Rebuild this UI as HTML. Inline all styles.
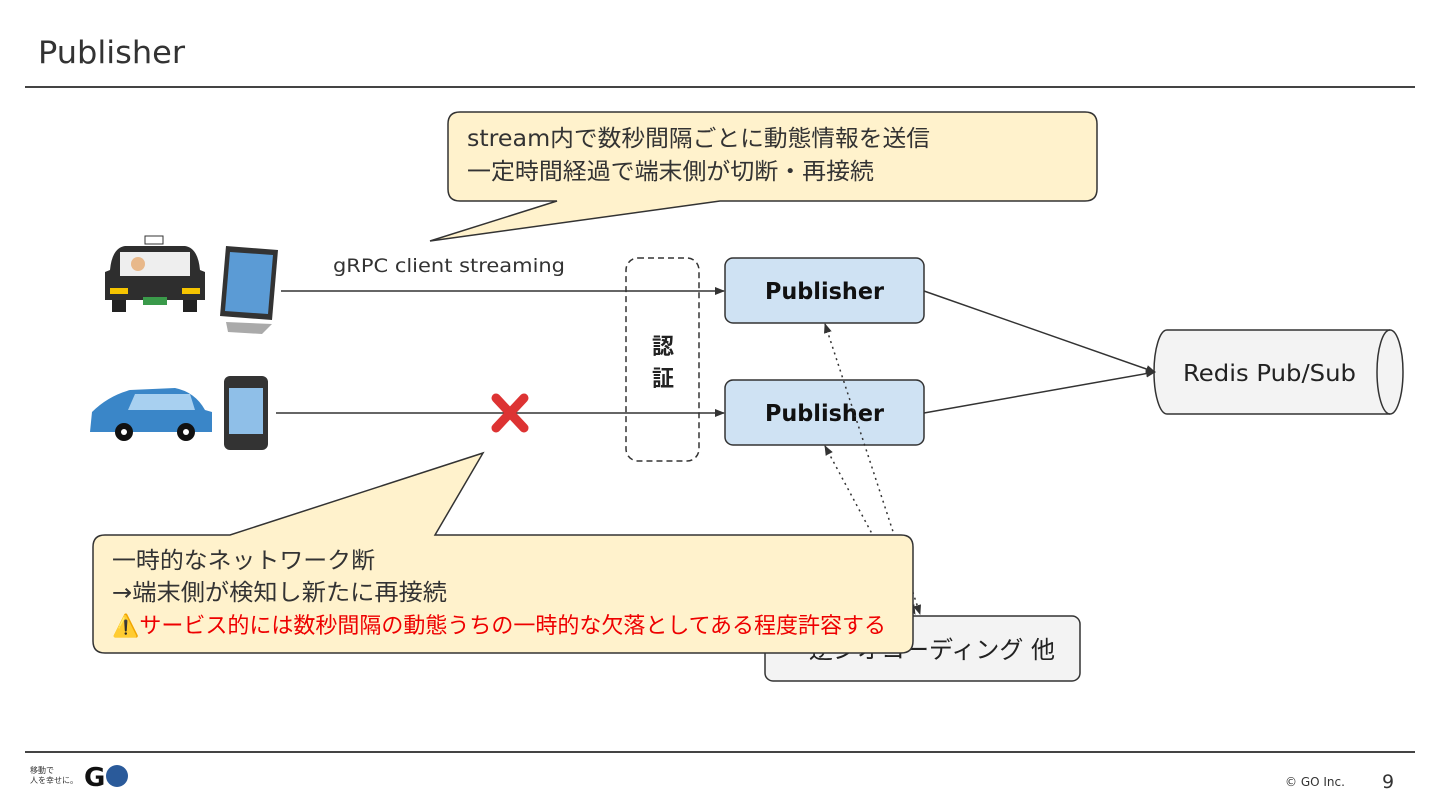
<!DOCTYPE html>
<html><head><meta charset="utf-8"><style>
body{margin:0;background:#fff}
svg{display:block;font-family:"DejaVu Sans","Noto Sans CJK JP",sans-serif}
</style></head><body>
<svg width="1440" height="810" viewBox="0 0 1440 810" xmlns="http://www.w3.org/2000/svg">
<defs>
<marker id="a" markerWidth="10" markerHeight="8" refX="9" refY="4" orient="auto-start-reverse" markerUnits="userSpaceOnUse"><path d="M0,0 L10,4 L0,8 z" fill="#333"/></marker>
</defs>
<text x="38" y="63" font-size="31" fill="#333" textLength="147" lengthAdjust="spacingAndGlyphs">Publisher</text>
<line x1="25" y1="87" x2="1415" y2="87" stroke="#444" stroke-width="2"/>

<!-- devices -->
<g>
<rect x="145" y="236" width="18" height="8" fill="#fff" stroke="#333"/>
<path d="M110,270 Q112,248 125,246 L185,246 Q198,248 200,270 L205,272 L205,300 L105,300 L105,272z" fill="#2e2e2e"/>
<rect x="120" y="252" width="70" height="24" fill="#eee"/>
<circle cx="138" cy="264" r="7" fill="#e8b88a"/>
<rect x="110" y="288" width="18" height="6" fill="#f5c400"/><rect x="182" y="288" width="18" height="6" fill="#f5c400"/>
<rect x="143" y="297" width="24" height="8" fill="#3a9a4a"/>
<rect x="112" y="300" width="14" height="12" fill="#222"/><rect x="183" y="300" width="14" height="12" fill="#222"/>
<path d="M226,246 L278,250 L272,320 L220,316z" fill="#333"/>
<path d="M230,252 L273,255 L268,314 L225,311z" fill="#5b9bd5"/>
<path d="M226,322 L272,324 L262,334 L228,332z" fill="#aaa"/>
<path d="M92,412 Q108,396 130,390 L175,388 Q195,392 205,410 L212,412 L212,432 L90,432z" fill="#3a86c8"/>
<path d="M135,394 L190,394 L195,410 L128,410z" fill="#a8d0f0"/>
<circle cx="124" cy="432" r="9" fill="#111"/><circle cx="124" cy="432" r="3" fill="#fff"/>
<circle cx="186" cy="432" r="9" fill="#111"/><circle cx="186" cy="432" r="3" fill="#fff"/>
<rect x="224" y="376" width="44" height="74" rx="6" fill="#333"/>
<rect x="229" y="388" width="34" height="46" fill="#8fbfe8"/>
</g>

<!-- callout 1 -->
<path d="M460,112 H1085 Q1097,112 1097,124 V189 Q1097,201 1085,201 H720 L430,241 L557,201 H460 Q448,201 448,189 V124 Q448,112 460,112z" fill="#fff2cc" stroke="#333" stroke-width="1.5"/>
<text x="467" y="146" font-size="23" fill="#333" textLength="463" lengthAdjust="spacingAndGlyphs">stream内で数秒間隔ごとに動態情報を送信</text>
<text x="467" y="179" font-size="23" fill="#333" textLength="407" lengthAdjust="spacingAndGlyphs">一定時間経過で端末側が切断・再接続</text>

<text x="333" y="272" font-size="19" fill="#333" textLength="232" lengthAdjust="spacingAndGlyphs">gRPC client streaming</text>
<line x1="281" y1="291" x2="724" y2="291" stroke="#333" stroke-width="1.5" marker-end="url(#a)"/>
<line x1="276" y1="413" x2="724" y2="413" stroke="#333" stroke-width="1.5" marker-end="url(#a)"/>
<g stroke="#d33" stroke-width="9" stroke-linecap="round"><line x1="496" y1="398" x2="524" y2="428"/><line x1="524" y1="398" x2="496" y2="428"/></g>

<rect x="626" y="258" width="73" height="203" rx="12" fill="none" stroke="#333" stroke-width="1.5" stroke-dasharray="6,4"/>
<text x="663" y="354" font-size="22" font-weight="bold" fill="#222" text-anchor="middle">認</text>
<text x="663" y="386" font-size="22" font-weight="bold" fill="#222" text-anchor="middle">証</text>

<rect x="725" y="258" width="199" height="65" rx="8" fill="#cfe2f3" stroke="#333" stroke-width="1.5"/>
<text x="765" y="299" font-size="23" font-weight="bold" fill="#111" textLength="119" lengthAdjust="spacingAndGlyphs">Publisher</text>
<rect x="725" y="380" width="199" height="65" rx="8" fill="#cfe2f3" stroke="#333" stroke-width="1.5"/>
<text x="765" y="421" font-size="23" font-weight="bold" fill="#111" textLength="119" lengthAdjust="spacingAndGlyphs">Publisher</text>

<path d="M1167,330 H1390 A13,42 0 0 1 1390,414 H1167 A13,42 0 0 1 1167,330z" fill="#f3f3f3" stroke="#333" stroke-width="1.5"/>
<path d="M1390,330 A13,42 0 0 0 1390,414" fill="none" stroke="#333" stroke-width="1.5"/>
<text x="1183" y="381" font-size="23" fill="#222" textLength="173" lengthAdjust="spacingAndGlyphs">Redis Pub/Sub</text>
<line x1="924" y1="291" x2="1155" y2="372" stroke="#333" stroke-width="1.5" marker-end="url(#a)"/>
<line x1="924" y1="413" x2="1155" y2="372" stroke="#333" stroke-width="1.5" marker-end="url(#a)"/>

<line x1="825" y1="324" x2="920" y2="614" stroke="#333" stroke-width="1.5" stroke-dasharray="2,4" marker-start="url(#a)" marker-end="url(#a)"/>
<line x1="825" y1="446" x2="915" y2="614" stroke="#333" stroke-width="1.5" stroke-dasharray="2,4" marker-start="url(#a)" marker-end="url(#a)"/>

<rect x="765" y="616" width="315" height="65" rx="8" fill="#f3f3f3" stroke="#333" stroke-width="1.5"/>
<text x="1055" y="658" font-size="24" fill="#222" text-anchor="end">逆ジオコーディング 他</text>

<!-- callout 2 -->
<path d="M105,535 H230 L483,453 L435,535 H901 Q913,535 913,547 V641 Q913,653 901,653 H105 Q93,653 93,641 V547 Q93,535 105,535z" fill="#fff2cc" stroke="#333" stroke-width="1.5"/>
<text x="112" y="568" font-size="23" fill="#333" textLength="263" lengthAdjust="spacingAndGlyphs">一時的なネットワーク断</text>
<text x="112" y="600" font-size="23" fill="#333" textLength="335" lengthAdjust="spacingAndGlyphs">→端末側が検知し新たに再接続</text>
<text x="112" y="633" font-size="22" fill="#e00" textLength="774" lengthAdjust="spacingAndGlyphs">⚠️サービス的には数秒間隔の動態うちの一時的な欠落としてある程度許容する</text>

<line x1="25" y1="752" x2="1415" y2="752" stroke="#444" stroke-width="2"/>
<text x="30" y="773" font-size="8" fill="#333">移動で</text>
<text x="30" y="783" font-size="8" fill="#333">人を幸せに。</text>
<text x="84" y="786" font-size="26" font-weight="bold" fill="#111">G</text>
<circle cx="117" cy="776" r="11" fill="#2a5a9a"/>
<text x="1285" y="786" font-size="12" fill="#333">© GO Inc.</text>
<text x="1382" y="788" font-size="19" fill="#333">9</text>
</svg>
</body></html>
